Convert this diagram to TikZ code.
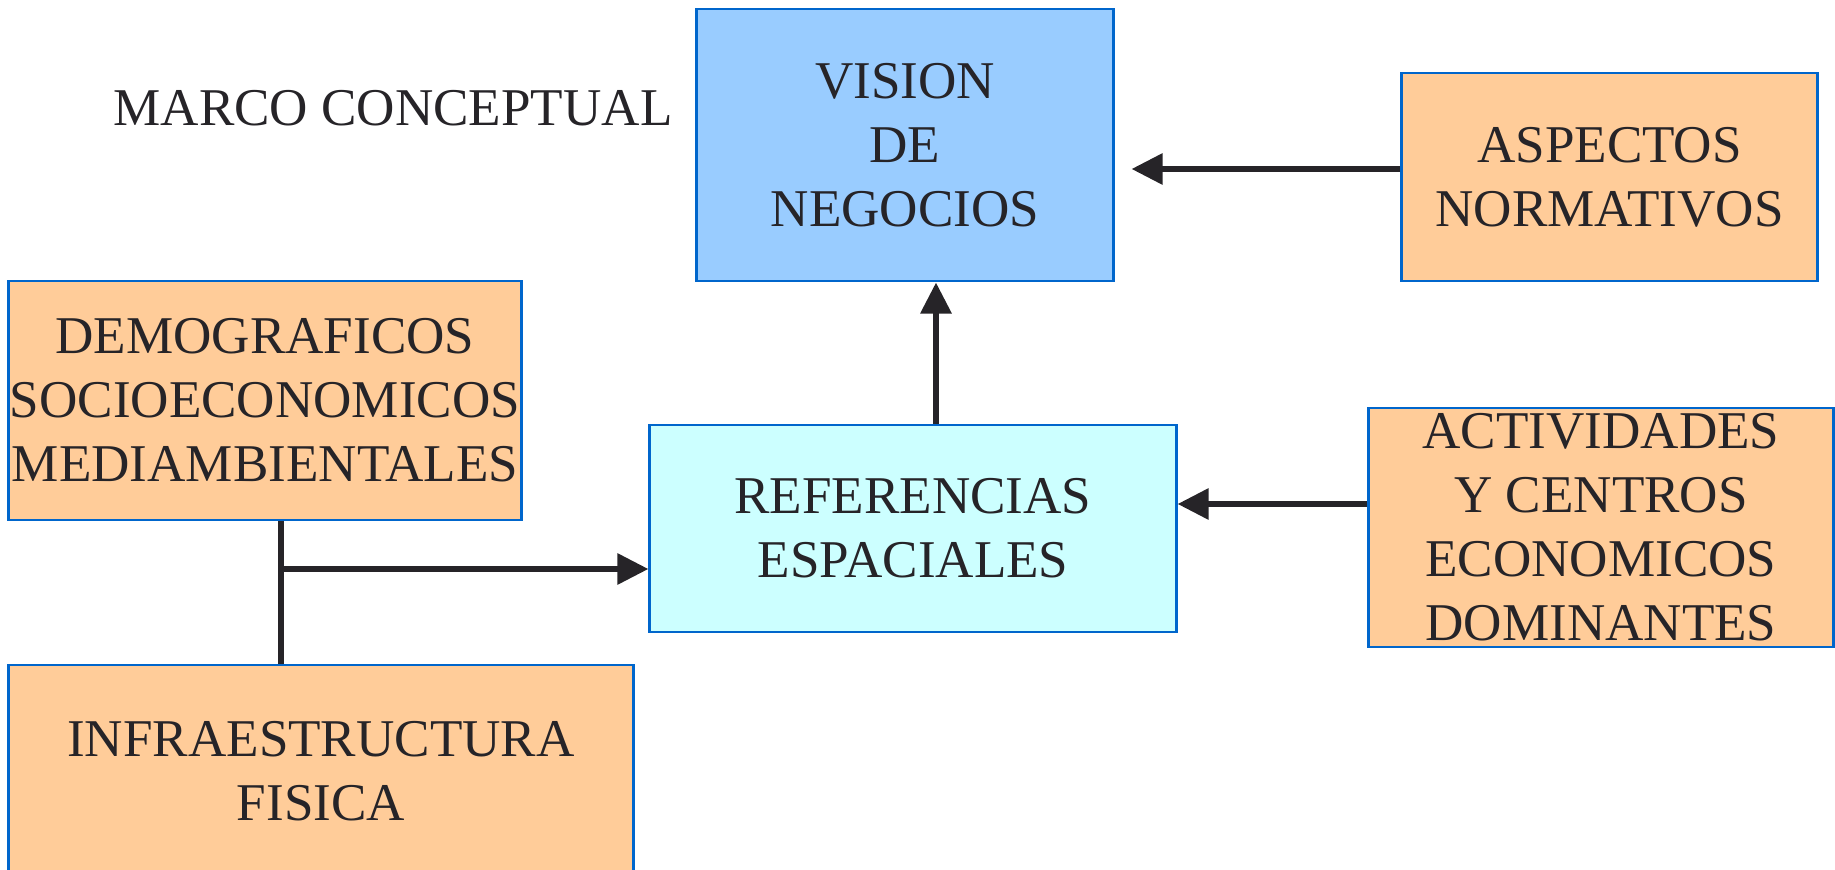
\documentclass[tikz,border=0pt]{standalone}
\usepackage{fontspec}
\setmainfont{Liberation Serif}
\usetikzlibrary{arrows.meta}

\definecolor{azulclaro}{RGB}{153,204,255}
\definecolor{celeste}{RGB}{204,255,255}
\definecolor{naranja}{RGB}{255,204,153}
\definecolor{borde}{RGB}{0,102,204}
\definecolor{tinta}{RGB}{38,36,40}

\tikzset{
	texto/.style={text=tinta, align=center, inner sep=0pt, font=\fontsize{15.1}{18.2}\selectfont},
	caja/.style={texto, draw=borde, line width=0.8pt},
	flecha/.style={draw=tinta, line width=1.7pt, -{Triangle[length=3.1mm,width=3mm]}},
	linea/.style={draw=tinta, line width=1.7pt}
}

\begin{document}
\begin{tikzpicture}[x=0.01cm, y=-0.01cm]

	\useasboundingbox (0,0) rectangle (1835,870);

	\coordinate (subida) at (936, 0);
	\coordinate (normas) at (0, 169);
	\coordinate (activ) at (0, 504);
	\coordinate (junta) at (281, 569);

	\node[texto] (marco) at (393, 108) {MARCO CONCEPTUAL};

	\node[caja, fill=azulclaro, minimum width=4.16cm, minimum height=2.72cm] (vision) at (905, 145) {VISION\\DE\\NEGOCIOS};
	\node[caja, fill=naranja, minimum width=4.15cm, minimum height=2.08cm] (aspectos) at (1609.5, 177) {ASPECTOS\\NORMATIVOS};
	\node[caja, fill=naranja, minimum width=5.12cm, minimum height=2.39cm] (demograficos) at (265, 400.5) {DEMOGRAFICOS\\SOCIOECONOMICOS\\MEDIAMBIENTALES};
	\node[caja, fill=celeste, minimum width=5.26cm, minimum height=2.07cm] (referencias) at (913, 528.5) {REFERENCIAS\\ESPACIALES};
	\node[caja, fill=naranja, minimum width=4.64cm, minimum height=2.39cm] (actividades) at (1601, 527.5) {ACTIVIDADES\\Y CENTROS\\ECONOMICOS\\DOMINANTES};
	\node[caja, fill=naranja, minimum width=6.24cm, minimum height=2.12cm] (infra) at (321, 771) {INFRAESTRUCTURA\\FISICA};

	\draw[flecha] (referencias.north -| subida) -- (vision.south -| subida);
	\draw[flecha, shorten >=0.17cm] (aspectos.west |- normas) -- (vision.east |- normas);
	\draw[flecha] (actividades.west |- activ) -- (referencias.east |- activ);
	\draw[linea] (demograficos.south -| junta) -- (infra.north -| junta);
	\draw[flecha] (junta) -- (referencias.west |- junta);

\end{tikzpicture}
\end{document}
